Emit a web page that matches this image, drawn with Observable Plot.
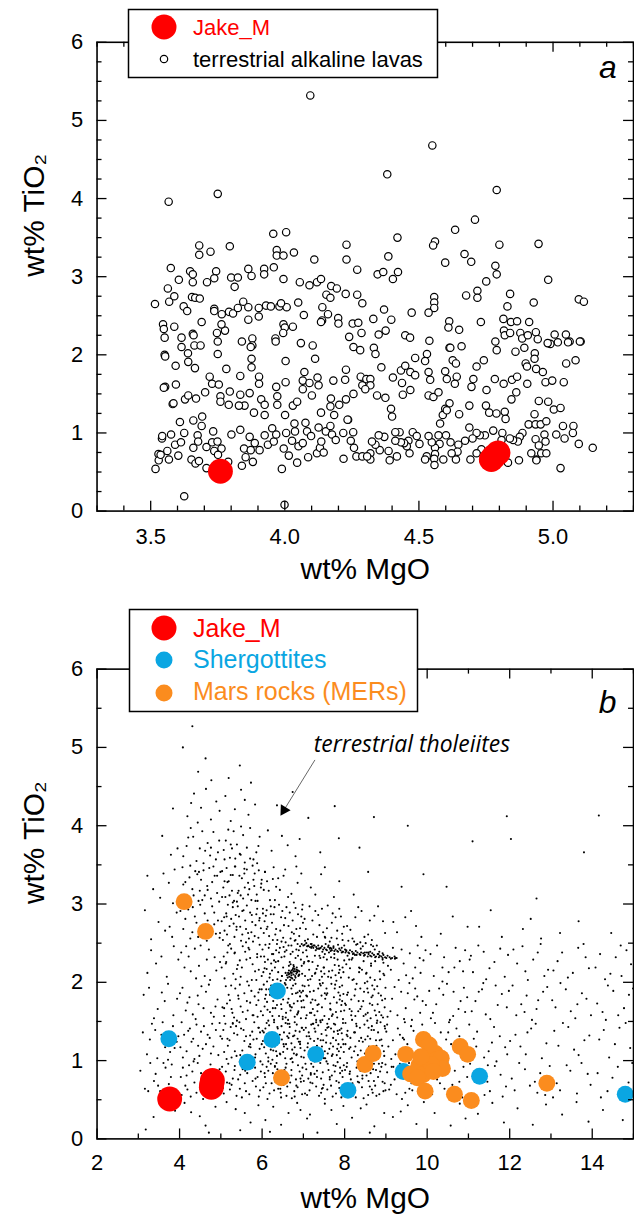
<!DOCTYPE html>
<html><head><meta charset="utf-8">
<script src="https://cdn.jsdelivr.net/npm/d3@7"></script>
<script src="https://cdn.jsdelivr.net/npm/@observablehq/plot@0.6"></script>
<style>
html,body{margin:0;padding:0;background:#fff;overflow:hidden}
#wrap{position:relative;width:634px;height:1215px;overflow:hidden;background:#fff}
.panel{position:absolute;left:0}
#legend{position:absolute;left:0;top:0;pointer-events:none}
</style></head><body><div id="wrap"></div>
<script>
// ---------------- DATA ----------------
// Panel a: terrestrial alkaline lavas, flat list [MgO, TiO2, ...] (wt%)
const alkalineLavas = [
4.095,5.32, 4.55,4.68,
3.567,3.96, 3.75,4.06, 4.382,4.31, 4.79,4.11, 4.709,3.73, 4.635,3.60, 4.42,3.50, 3.957,3.55, 4.005,3.57, 4.56,3.45, 4.553,3.40, 4.80,3.41, 4.946,3.42, 4.67,3.29, 4.695,3.19, 4.598,3.18, 4.386,3.26, 4.23,3.41, 4.23,3.22, 4.27,3.09, 4.11,3.22, 4.034,3.31, 3.97,3.34, 3.97,3.27, 3.995,3.27, 3.959,3.12, 3.681,3.40, 3.681,3.28, 3.723,3.32, 3.795,3.39, 3.575,3.11, 3.647,3.07, 3.657,3.03, 3.744,3.07, 3.864,3.10, 3.923,3.10, 3.876,3.01, 3.923,3.03, 3.605,2.96, 3.657,2.93, 3.71,2.93, 3.737,2.98, 3.80,2.99, 3.825,2.99, 3.813,2.87, 3.995,2.97, 4.056,2.93, 4.092,2.89, 4.12,2.93, 4.135,2.97, 4.173,2.88, 4.194,2.85, 4.155,2.77, 4.17,2.73, 4.227,2.78, 4.27,2.77, 4.289,2.66, 4.346,3.03, 4.367,3.06, 4.403,2.97, 4.422,3.06, 4.751,2.94, 4.79,3.03, 4.785,3.14, 4.982,2.96, 4.676,2.76, 4.718,2.82, 4.718,2.73, 4.84,2.78, 4.557,2.74, 4.557,2.67, 4.557,2.60, 4.83,2.62, 4.928,2.67, 5.096,2.71, 5.115,2.68, 3.516,2.65, 3.569,2.68, 3.588,2.75, 3.654,2.74, 3.666,2.73, 3.683,2.72, 3.564,2.85, 3.623,2.62, 3.636,2.56, 3.69,2.42, 3.737,2.59, 3.737,2.56, 3.765,2.52, 3.792,2.55, 3.807,2.53, 3.825,2.60, 3.845,2.68, 3.864,2.61, 3.903,2.60, 3.93,2.63, 3.948,2.62, 3.98,2.62, 4.007,2.61, 3.986,2.66, 3.864,2.45, 3.903,2.49, 4.05,2.67, 4.071,2.51, 4.14,2.61, 4.161,2.52, 4.139,2.44, 4.135,2.42, 4.199,2.47, 4.2,2.40, 4.33,2.46, 4.37,2.58, 4.397,2.45, 4.473,2.54, 4.536,2.54, 4.613,2.43, 4.731,2.42, 4.815,2.46, 4.61,2.35, 4.65,2.32, 4.843,2.42, 4.866,2.43, 4.911,2.42, 3.546,2.39, 3.549,2.33, 3.588,2.36, 3.657,2.27, 3.747,2.28, 3.777,2.31, 3.764,2.39, 3.995,2.39, 4.0,2.35, 4.03,2.36, 3.994,2.28, 3.965,2.21, 4.253,2.40, 4.274,2.41, 4.286,2.28, 4.24,2.23, 4.35,2.26, 4.376,2.31, 4.449,2.25, 4.467,2.22, 4.817,2.31, 4.82,2.25, 4.84,2.28, 4.878,2.28, 4.885,2.21, 4.906,2.25, 4.936,2.29, 4.943,2.20, 5.006,2.26, 5.048,2.26, 5.018,2.16, 5.062,2.17, 5.103,2.17, 4.99,2.14, 4.785,2.17, 4.539,2.18, 4.614,2.09, 4.659,2.11, 3.615,2.22, 3.615,2.10, 3.66,2.25, 3.663,2.12, 3.686,2.12, 3.75,2.17, 3.84,2.17, 3.879,2.21, 3.879,2.12, 4.06,2.15, 4.104,2.12, 3.552,2.22,
3.552,2.0, 3.639,2.02, 3.75,2.01, 4.256,2.10, 4.281,2.06, 4.332,2.09, 4.617,2.09, 4.79,2.06, 4.86,2.04, 4.893,2.09, 4.932,2.02, 4.98,2.15, 5.056,2.16, 5.1,2.17, 3.873,2.10, 3.966,2.17,
3.554,1.98, 3.593,1.86, 3.64,1.91, 3.665,1.83, 3.554,1.59, 3.582,1.37, 3.628,1.43, 3.669,1.44, 3.703,1.52, 3.72,1.72, 3.729,1.63, 3.754,1.62, 3.76,1.47, 3.76,1.40, 3.782,1.82, 3.795,1.53, 3.791,1.36, 3.834,1.73, 3.834,1.49, 3.85,1.35, 3.829,1.35, 3.869,1.51, 3.876,1.95, 3.876,1.84, 3.904,1.72, 3.904,1.63, 3.912,1.43, 3.925,1.36, 3.925,1.23, 3.885,1.26, 3.968,1.59, 3.972,1.47, 3.972,1.36, 4.003,1.92, 4.003,1.65, 4.001,1.23, 4.03,1.35, 4.046,1.40, 4.073,1.78, 4.067,1.67, 4.067,1.56, 4.092,1.64, 4.101,1.48, 4.113,1.95, 4.122,1.71, 4.126,1.61, 4.135,1.26, 4.181,1.67, 4.172,1.44, 4.17,1.34, 4.184,1.23, 4.203,1.36, 4.228,1.81, 4.225,1.68, 4.228,1.43, 4.236,1.17, 4.256,1.50, 4.283,1.72, 4.289,1.61,
3.518,0.54, 3.529,0.73, 3.53,0.65, 3.542,0.93, 3.562,0.77, 3.568,0.66, 3.576,0.98, 3.591,0.85, 3.603,0.71, 3.609,1.14, 3.613,0.88, 3.625,1.0, 3.625,0.19, 3.652,0.66, 3.659,1.16, 3.659,0.81, 3.667,0.61, 3.675,0.97, 3.677,0.89, 3.69,1.09, 3.692,1.21, 3.68,0.64, 3.708,0.55, 3.708,0.82, 3.729,0.88, 3.733,1.02, 3.737,0.77, 3.749,0.89, 3.764,0.80, 3.751,0.72, 3.789,0.63, 3.801,0.98, 3.834,1.04, 3.84,0.58, 3.848,0.80, 3.854,0.69, 3.869,0.95, 3.873,0.78, 3.881,0.63, 3.888,0.87, 3.906,0.78, 3.925,0.97, 3.937,0.85, 3.953,1.06, 3.959,0.89, 3.968,0.98, 3.989,0.54, 3.996,0.80, 4.005,1.0, 4.015,0.71, 4.027,0.90, 4.036,1.12, 4.038,1.02, 4.046,0.62, 4.051,0.83, 4.067,0.87, 4.077,1.13, 4.083,1.02, 4.087,0.69, 4.098,0.96, 4.12,0.74, 4.126,1.07, 4.131,0.81, 4.136,0.89, 4.145,0.75, 4.153,1.02, 4.17,1.09, 4.176,0.98, 4.19,0.91, 4.218,1.0, 4.219,0.67, 4.234,1.17, 4.246,0.90, 4.255,1.01, 4.258,0.81, 4.267,0.70, 4.289,0.70, 3.999,0.08,
3.549,1.58, 3.594,1.62, 3.64,1.48, 3.585,1.38, 3.543,0.96, 3.537,0.72,
4.338,2.01, 4.36,1.84, 4.304,1.69, 4.319,1.69, 4.319,1.61, 4.3,1.56, 4.344,1.48, 4.375,1.45, 4.403,1.71, 4.396,1.31, 4.4,1.21, 4.433,1.80, 4.449,1.86, 4.437,1.64, 4.44,1.49, 4.468,1.78, 4.468,1.55, 4.486,1.96, 4.486,1.74, 4.53,2.01, 4.523,1.92, 4.536,1.78, 4.542,1.68, 4.536,1.48, 4.554,1.46, 4.573,1.52, 4.598,1.79, 4.604,1.69, 4.614,1.38, 4.598,1.31, 4.589,1.23, 4.579,1.12, 4.604,1.29, 4.626,1.93, 4.638,1.89, 4.641,1.72, 4.634,1.63, 4.65,1.24, 4.688,1.35, 4.696,1.59, 4.703,1.69, 4.715,1.85, 4.742,1.93, 4.752,1.55, 4.75,1.35, 4.762,1.26, 4.783,1.69, 4.789,1.25, 4.816,1.63, 4.82,1.27, 4.823,1.18, 4.847,1.68, 4.845,1.43, 4.863,1.52, 4.866,1.72, 4.898,1.89, 4.903,1.85, 4.904,1.63, 4.931,1.95, 4.937,1.82, 4.962,1.78, 4.972,1.65, 4.997,1.67, 5.04,1.65, 5.049,1.89, 5.084,1.93, 4.947,1.41, 4.982,1.40, 5.003,1.30, 5.028,1.32, 4.931,1.24, 4.909,1.11, 4.935,1.11, 4.954,1.11, 4.975,1.15, 5.037,1.09, 5.076,1.09, 5.012,0.98, 5.043,0.93, 5.074,1.0, 5.096,0.86, 5.148,0.81, 5.028,0.55, 4.968,0.98, 4.972,0.89, 4.935,0.92, 4.947,0.84, 4.956,0.74, 4.975,0.74, 4.919,0.74, 4.938,0.66, 4.886,1.0, 4.876,0.95, 4.869,0.89, 4.851,0.91, 4.873,0.65, 4.839,0.93, 4.811,1.0, 4.777,1.03, 4.746,0.97, 4.727,0.97, 4.715,1.0, 4.7,0.93, 4.692,0.66, 4.688,1.07, 4.672,0.90, 4.647,0.85, 4.644,0.76, 4.638,0.66, 4.618,0.88, 4.622,0.74, 4.601,0.97, 4.591,0.66, 4.573,0.97, 4.577,0.86, 4.56,0.81, 4.56,0.73, 4.557,0.67, 4.558,0.59, 4.548,0.88, 4.529,0.70, 4.523,0.66, 4.536,0.96, 4.502,0.86, 4.477,1.01, 4.461,0.90, 4.465,0.74, 4.455,0.83, 4.445,0.87, 4.433,0.88, 4.418,0.70, 4.428,1.01, 4.412,1.01, 4.412,0.90, 4.391,0.65, 4.387,0.77, 4.371,0.95, 4.35,0.97, 4.354,0.78, 4.338,0.85, 4.325,0.89, 4.319,0.74, 4.319,0.66, 4.307,0.70, 4.733,0.79, 4.74,0.65, 4.715,0.74, 4.832,0.62, 4.938,0.65, 4.808,0.91, 4.492,0.96
];

// Jake_M (same analyses in both panels) [MgO, TiO2]
const jakeM = [[3.76,0.51],[4.77,0.66],[4.78,0.70],[4.795,0.745]];

// Panel b: shergottites and Mars rocks (MERs) [MgO, TiO2]
const shergottites = [[3.74,1.28],[6.37,1.89],[6.24,1.27],[5.64,0.98],[7.3,1.08],[8.08,0.62],[9.42,0.86],[11.27,0.80],[14.8,0.57]];
const marsRocks = [[4.11,3.03],[4.63,2.65],[6.47,0.78],[8.49,0.95],[8.69,1.09],[9.48,1.08],[9.91,1.27],[9.6,0.83],[9.8,0.94],[10.0,1.01],[10.2,1.09],[10.34,1.03],[10.37,0.90],[9.9,0.82],[9.76,0.78],[10.05,1.20],[9.95,0.61],[10.66,0.57],[11.07,0.49],[10.8,1.18],[10.98,1.08],[12.9,0.71],[10.1,0.95],[9.85,1.05],[10.15,0.86]];

// Panel b: terrestrial tholeiites, flat list [MgO*100, TiO2*100, ...]
const tholeiites = [
337,28,371,44,318,12,389,36,
342,83,316,64,381,95,357,57,329,97,374,70,353,61,395,59,305,87,366,91,338,74,387,52,324,61,361,97,348,68,379,79,
356,133,321,108,384,144,365,117,333,147,393,124,346,103,311,136,377,111,359,149,328,127,388,116,341,139,397,131,372,101,363,122,
364,176,326,193,385,158,347,166,313,184,372,198,394,179,338,154,357,187,
356,233,322,212,386,246,343,224,369,207,397,229,331,241,
349,277,382,258,316,292,365,266,393,289,331,255,376,271,
374,327,353,308,388,344,336,319,361,339,322,336,384,301,379,363,358,387,395,371,384,422,
428,34,463,17,412,46,487,41,449,29,471,8,
436,72,408,91,471,58,452,84,419,63,493,77,444,97,427,54,482,88,461,66,403,79,475,95,431,86,457,51,414,68,488,62,467,82,441,59,497,89,423,94,479,71,405,56,434,99,458,75,486,53,417,81,
402,117,425,141,448,106,473,129,497,148,411,133,436,102,459,144,482,118,405,149,429,124,452,137,476,109,499,131,417,112,441,146,464,121,488,139,408,104,433,128,456,115,479,147,494,107,421,138,445,119,468,133,
458,167,424,181,483,156,407,193,446,172,471,197,432,159,492,178,415,164,464,188,439,153,487,169,453,195,419,174,476,161,401,186,444,183,
404,238,427,214,451,247,474,203,498,226,412,219,437,243,461,208,485,232,416,246,440,205,466,229,489,215,422,233,447,221,471,242,
454,271,421,293,488,262,437,284,466,253,409,268,479,297,445,258,493,279,426,256,461,288,414,281,473,266,450,299,484,274,431,264,468,279,402,291,497,257,441,276,
403,309,424,334,449,317,472,346,496,303,414,328,438,342,461,311,485,336,407,347,431,319,455,305,479,328,499,341,419,302,443,338,467,323,491,314,426,349,452,331,476,307,409,325,434,311,458,343,482,348,446,304,
462,368,433,386,488,357,417,374,455,393,474,362,441,355,496,381,427,397,468,378,409,361,482,392,449,371,458,352,421,385,493,366,
452,423,476,408,435,441,489,431,464,447,419,412,444,404,497,419,428,429,
431,527,408,500,463,486,477,458,445,469,
536,38,572,21,514,47,591,43,558,33,547,11,
542,76,507,58,583,91,526,69,564,84,595,62,518,96,551,53,577,74,533,88,502,81,569,57,546,99,589,79,522,63,558,71,512,86,574,94,538,55,597,86,529,77,561,61,585,67,547,82,515,72,571,98,505,65,553,89,592,54,534,93,
503,128,526,104,549,141,572,117,595,136,511,147,534,112,557,125,581,149,517,119,540,133,563,106,587,128,506,139,529,148,552,113,576,137,599,121,514,102,537,144,561,131,584,108,521,126,545,149,568,118,591,142,508,111,532,135,555,103,579,127,524,143,547,107,571,132,594,115,
553,162,519,184,586,171,532,155,568,196,504,168,577,158,543,179,594,191,526,166,561,153,512,195,582,182,548,169,535,192,571,174,508,157,557,186,597,163,522,177,565,164,539,151,589,156,515,173,574,189,546,197,528,161,591,177,
502,219,525,243,548,207,571,231,594,248,513,226,536,204,559,239,583,214,518,247,541,222,564,201,588,236,507,233,530,211,553,246,577,223,599,208,516,238,539,217,562,229,586,203,522,249,546,228,569,242,592,216,509,205,533,237,
547,271,513,288,582,259,529,296,566,263,594,282,505,254,555,292,538,267,576,277,521,272,561,251,588,294,544,284,509,266,571,289,533,258,597,269,552,261,517,299,584,273,541,297,568,256,525,281,559,279,591,257,536,286,502,278,574,264,549,253,515,261,586,287,531,275,563,298,508,283,578,252,
503,342,527,317,551,333,574,305,598,326,511,309,535,348,558,321,582,339,516,328,539,303,563,344,587,312,506,321,529,337,554,307,577,349,599,331,514,346,541,314,566,327,589,304,521,311,545,336,569,319,592,343,509,329,532,304,557,345,581,323,524,337,548,311,
546,364,512,381,579,357,531,393,563,372,594,386,522,359,554,388,507,369,571,397,539,376,586,366,518,395,558,353,527,371,549,399,591,374,535,358,
534,421,511,438,567,414,549,446,583,427,524,406,558,433,519,461,546,477,573,455,
627,41,664,33,608,24,685,46,646,18,693,37,619,9,
643,77,611,92,678,61,626,84,659,55,694,73,603,66,635,97,671,88,618,58,652,69,687,94,629,62,664,81,607,79,646,53,682,76,615,87,657,91,639,64,697,57,623,71,674,98,649,83,601,95,661,67,633,74,691,86,613,51,655,78,679,54,637,89,668,72,621,96,645,59,686,66,606,84,672,52,631,93,697,81,
641,123,608,141,677,109,624,132,662,147,693,116,615,104,653,136,634,112,686,128,602,125,669,102,647,144,619,119,681,138,636,106,658,121,697,142,612,134,673,114,629,149,664,129,644,108,689,124,605,117,651,111,684,146,622,127,666,135,638,141,695,105,617,145,656,103,675,131,631,118,648,127,691,137,609,109,671,122,627,113,661,115,643,133,683,107,614,129,657,148,635,125,679,117,601,138,667,143,625,101,692,121,653,118,
602,158,623,183,647,166,671,192,694,154,612,175,636,197,658,161,682,186,606,169,629,152,653,188,677,173,698,196,617,191,641,157,664,179,688,163,609,184,632,167,655,199,679,156,700,177,619,162,643,194,667,171,691,189,604,197,627,176,650,153,673,185,696,168,615,151,638,181,661,193,685,159,622,196,646,172,669,164,692,182,607,179,634,188,657,155,681,198,613,165,640,185,663,152,686,176,625,157,648,193,672,168,695,187,610,191,651,178,
603,213,627,236,648,208,671,247,696,221,614,229,637,204,659,241,684,216,608,248,631,219,654,233,678,203,699,238,619,211,643,244,667,226,689,209,605,233,626,203,651,219,674,239,697,211,616,244,639,227,662,206,686,249,611,217,634,241,657,212,681,231,622,224,645,202,669,236,692,246,601,242,629,228,652,245,676,214,694,229,618,206,641,238,665,221,687,234,607,226,636,249,658,203,683,242,624,215,647,232,
663,212,671,209,678,214,666,207,674,216,683,211,669,213,681,206,676,210,687,215,673,205,665,215,679,217,690,210,660,209,684,219,668,203,677,220,
667,211,672,212,680,208,685,213,670,206,675,218,682,214,664,210,688,208,671,215,
604,263,628,287,651,257,674,279,697,293,613,271,637,254,659,296,683,268,609,285,632,261,656,282,679,253,699,276,621,297,644,266,667,289,690,259,606,278,626,254,649,291,672,264,695,284,617,259,641,299,664,272,687,287,611,292,634,268,657,251,681,295,624,276,646,283,669,256,692,269,602,288,630,296,653,273,677,262,698,299,
634,322,607,341,671,313,619,305,652,336,686,327,628,347,663,309,643,318,695,339,612,329,677,302,656,344,639,333,604,318,683,348,
623,368,648,387,681,361,614,394,662,375,691,383,636,426,674,443,
716,31,752,45,781,19,734,8,768,37,797,42,709,26,
704,58,727,83,749,69,773,94,798,61,712,77,738,55,761,88,786,72,719,96,745,64,769,81,792,53,707,89,731,67,756,99,779,58,701,74,724,92,752,51,776,86,795,79,715,62,741,97,767,68,789,91,709,56,733,79,758,63,783,98,722,71,747,85,771,54,794,87,718,82,743,59,764,76,787,65,
703,113,729,137,747,104,772,129,796,148,711,122,736,145,759,109,784,134,721,101,748,126,767,141,791,117,706,142,733,119,756,132,781,107,717,128,742,149,763,115,788,139,701,104,726,125,752,112,777,146,795,127,713,136,739,111,761,143,785,121,723,147,745,118,769,106,793,135,708,131,731,103,754,139,779,126,798,111,719,146,744,134,766,122,789,103,714,109,735,128,758,147,782,115,727,141,750,103,774,137,
702,168,725,189,751,157,774,181,799,164,713,196,737,172,762,153,785,187,719,161,744,183,768,198,792,171,706,154,729,177,756,192,779,162,797,185,716,188,741,151,765,173,788,194,723,166,747,199,771,159,794,176,709,182,734,163,758,186,782,155,703,195,727,158,753,179,776,192,796,153,718,174,742,196,766,165,789,183,731,152,
704,208,728,234,749,219,773,246,797,213,712,227,739,203,762,238,786,221,720,249,743,214,767,232,791,206,707,241,732,217,757,229,780,202,701,224,725,247,751,211,775,236,799,228,714,216,737,243,760,207,784,248,722,226,746,239,770,215,793,244,709,233,735,221,754,249,778,209,717,204,741,231,765,244,788,216,729,212,752,236,776,222,796,239,711,246,745,207,
696,249,703,248,707,250,712,247,718,249,721,246,727,247,731,245,736,247,742,244,745,246,751,244,755,242,760,245,764,243,769,241,773,244,778,242,782,240,787,243,790,241,795,239,801,242,804,240,809,238,813,241,818,239,822,237,827,240,831,238,836,236,840,238,845,237,849,235,854,238,858,236,862,234,867,237,871,235,876,233,880,236,885,234,889,233,894,235,898,232,904,234,909,232,915,231,921,233,926,231,
700,247,709,246,716,245,724,244,733,243,739,243,748,242,757,241,766,240,775,240,784,239,793,238,802,238,811,237,820,236,829,235,838,235,847,234,856,233,865,233,874,232,883,232,892,231,901,231,912,230,922,230,
752,258,768,257,781,256,795,254,809,253,823,252,838,251,851,250,864,248,
706,268,729,291,753,257,778,283,794,262,715,297,739,273,764,252,787,294,722,279,748,264,771,288,798,271,711,255,736,286,759,298,782,266,724,261,745,294,769,276,791,284,703,281,757,269,733,258,
718,321,743,338,774,309,752,347,729,312,787,329,741,366,786,384,712,410,776,425,
818,27,853,44,872,16,839,39,896,33,861,8,
803,68,829,91,858,74,884,57,812,83,846,52,871,96,897,71,821,59,838,87,866,63,889,92,806,97,853,81,877,55,815,76,842,66,869,89,894,61,827,53,851,99,881,79,808,58,835,72,863,84,899,95,819,64,847,93,874,68,831,80,857,56,886,86,801,88,843,77,868,59,892,73,
811,115,837,142,864,103,889,127,823,136,849,109,878,148,802,121,856,131,883,112,817,104,844,124,871,139,896,106,828,147,859,118,876,126,805,133,832,107,866,144,891,119,814,129,853,101,881,136,839,113,862,128,898,141,826,118,848,146,874,109,807,138,835,125,869,111,887,149,
812,166,838,192,863,154,891,177,824,183,851,159,879,195,803,171,857,187,884,162,818,152,845,176,872,191,897,168,829,198,861,173,876,158,806,184,833,163,867,196,893,155,816,178,855,151,882,186,841,169,865,181,899,193,826,157,849,199,873,164,
813,218,839,243,862,206,892,229,825,235,852,211,878,247,804,223,858,238,885,214,819,203,846,227,873,242,896,209,831,249,864,221,807,234,835,213,869,246,894,225,817,229,855,201,884,239,842,216,
814,267,841,291,866,254,893,278,826,283,857,261,881,297,806,272,848,258,872,285,833,296,898,263,819,256,861,279,
822,312,857,341,836,372,871,411,
917,28,953,43,974,19,936,35,992,47,
908,63,931,88,962,71,985,54,914,92,947,59,978,83,921,76,956,97,993,66,903,85,939,51,969,94,912,69,951,79,987,91,926,57,964,62,998,88,934,96,
906,118,929,141,958,106,983,133,917,126,946,149,975,112,901,137,952,121,988,146,913,102,941,129,967,138,996,115,923,108,961,144,979,124,934,133,
911,163,937,188,963,152,989,176,921,194,948,167,976,182,904,156,957,199,983,161,915,179,944,153,971,192,997,171,928,158,953,186,
912,216,938,242,965,205,991,228,923,231,949,209,977,247,905,221,958,237,984,212,917,244,943,224,971,219,996,241,
927,264,961,291,918,277,986,258,947,283,973,272,938,322,991,338,953,400,
1018,33,1057,17,1079,45,1093,26,
1012,57,1036,83,1061,69,1088,92,1024,76,1049,98,1073,61,1097,79,1006,91,1042,64,1067,87,1085,53,1031,71,
1008,112,1033,136,1058,121,1083,104,1019,148,1046,127,1071,141,1094,118,1027,103,1053,149,1078,131,1002,126,
1014,161,1039,184,1063,157,1089,193,1022,172,1048,198,1076,166,1097,181,1005,189,1055,152,1081,176,1029,192,
1016,208,1041,232,1066,219,1092,241,1024,247,1052,213,1079,227,1008,236,1037,201,1069,244,1087,214,
1033,262,1062,284,1098,271,1047,322,
1123,32,1158,46,1186,21,
1115,78,1139,56,1164,93,1191,67,1127,87,1152,61,1178,82,1104,96,1146,73,1183,54,1168,99,
1113,128,1138,104,1162,143,1189,117,1121,137,1149,112,1176,131,1102,146,1157,123,1194,108,
1117,176,1142,159,1166,196,1193,168,1125,188,1153,153,1181,185,1108,163,1171,171,1136,199,1198,189,
1111,213,1137,239,1163,226,1188,207,1124,247,1151,218,1177,243,1103,229,1143,204,1196,235,
1126,271,1154,292,1181,258,1110,380,1193,412,
1219,39,1256,18,1288,44,
1212,62,1237,89,1261,73,1286,56,1223,97,1249,68,1274,84,1297,93,1205,77,1267,59,
1214,133,1239,108,1263,147,1289,122,1226,118,1252,141,1278,103,1201,125,1243,136,
1216,158,1241,183,1265,166,1291,194,1228,172,1254,152,1281,188,1207,196,1269,177,1236,162,
1218,224,1244,203,1268,238,1293,216,1231,246,1257,229,1284,208,1209,242,1275,249,1238,214,
1232,268,1276,256,1251,281,1265,307,1203,383,
1327,31,1362,47,1391,22,
1314,71,1338,94,1363,58,1389,83,1322,62,1347,87,1374,97,1305,53,1396,69,
1318,119,1342,143,1367,107,1393,132,1329,148,1356,114,1381,126,1308,138,
1311,168,1336,191,1359,154,1386,179,1323,199,1348,163,1375,186,1303,177,1397,158,1364,172,
1316,227,1341,206,1366,244,1392,218,1327,238,1353,212,1379,249,1306,215,1384,232,
1322,263,1367,278,1380,366,
1426,37,1474,24,
1413,84,1437,61,1462,92,1488,72,1421,53,1449,78,1473,65,1497,97,
1417,127,1441,104,1466,142,1492,116,1428,139,1455,121,1481,148,
1412,173,1438,196,1463,158,1489,184,1425,162,1451,189,1477,167,1499,192,1433,152,
1419,236,1444,211,1469,247,1494,223,1431,204,1457,232,1483,241,1408,219,1471,208,
1446,263,1416,413,
583,104,591,187,597,233,604,136,609,71,612,201,618,249,621,114,626,167,631,92,633,226,637,143,641,181,644,64,648,208,652,121,655,239,659,96,662,174,666,147,669,223,671,81,675,196,678,132,681,254,684,108,687,161,690,214,693,77,696,142,699,189,
702,226,705,96,708,158,711,203,714,131,717,72,719,244,722,178,725,113,728,211,731,149,733,87,736,192,739,234,742,126,745,168,747,65,750,219,753,103,756,184,758,142,761,247,764,79,767,206,769,157,772,118,775,231,778,93,781,174,783,138,786,212,789,84,791,163,794,196,797,121,799,247,
802,148,805,92,808,187,811,229,814,117,817,163,819,71,822,204,825,136,828,248,831,99,834,176,837,218,840,129,843,81,846,157,849,238,852,109,855,192,858,142,861,67,864,224,867,171,870,118,873,203,876,88,879,151,882,236,885,126,888,183,891,97,894,211,897,144,899,62,
606,218,611,148,615,99,619,184,624,236,628,127,632,73,636,171,639,213,643,109,647,252,650,156,654,88,657,197,661,131,664,247,668,169,672,103,676,222,679,149,683,68,686,187,689,241,692,124,695,176,698,91,701,139,704,253,707,183,710,117,713,227,716,161,718,84,721,208,724,147,727,99,730,241,734,171,737,112,740,198,743,77,746,152,749,232,752,186,755,123,759,96,762,214,765,166,768,243,771,108,774,147,777,197,780,74,783,229,786,112,788,178,792,141,795,219,798,94,801,173,804,241,807,131,810,206,813,86,816,158,819,231,823,112,826,191,829,144,832,73,835,219,838,166,841,98,844,246,847,188,850,127,853,212,856,161,859,91,862,239,865,139,868,183,871,74,874,227,877,119,880,172,883,96,886,204,889,158,892,237,895,112,898,179,
503,92,508,167,512,224,516,128,521,71,525,196,529,147,534,238,538,106,542,183,546,64,551,219,555,139,559,87,563,176,567,244,571,121,575,203,579,158,584,77,588,232,592,142,596,99,599,191,
432,296,447,341,459,267,468,318,476,372,484,289,491,336,498,263,503,309,509,357,514,284,519,329,524,376,529,302,534,348,538,271,543,317,548,363,552,291,557,339,561,268,566,312,571,358,575,286,579,331,584,304,588,352,593,279,597,321,602,294,607,341,611,268,616,317,621,287,626,332,631,305,
903,146,918,92,931,203,944,127,957,64,969,178,982,231,996,108,1009,154,1023,87,1037,219,1051,136,1064,188,1078,73,1092,162,1106,234,1119,118,1133,191,1147,94
];

// Axis ticks and labels
const xMajorA = [3.5, 4.0, 4.5, 5.0];
const xMinorA = [3.3,3.4,3.6,3.7,3.8,3.9,4.1,4.2,4.3,4.4,4.6,4.7,4.8,4.9,5.1,5.2,5.3];
const yMajor = [0, 1, 2, 3, 4, 5, 6];
const yMinorA = [0.25,0.5,0.75,1.25,1.5,1.75,2.25,2.5,2.75,3.25,3.5,3.75,4.25,4.5,4.75,5.25,5.5,5.75];
const xMajorB = [2, 4, 6, 8, 10, 12, 14];
const xMinorB = [3, 5, 7, 9, 11, 13, 15];
const yMinorB = [0.5, 1.5, 2.5, 3.5, 4.5, 5.5];

// Text
const xTitle = "wt% MgO";
const yTitle = "wt% TiO\u2082";
const tholLabel = [{x: 9.63, y: 5.03, text: "terrestrial tholeiites"}];
const tholArrow = [{x1: 7.28, y1: 4.84, x2: 6.53, y2: 4.2}];

const colors = {jake: "#ff0000", sherg: "#0aa6e2", mars: "#fb8c1e"};

// ---------------- RENDER ----------------
const FONT = '"Liberation Sans", Arial, Helvetica, sans-serif';
const toPts = (flat, k = 1) => { const o = []; for (let i = 0; i < flat.length; i += 2) o.push({x: flat[i] / k, y: flat[i + 1] / k}); return o; };
const toObj = arr => arr.map(([x, y]) => ({x, y}));

function frameTicks(xMaj, xMin, yMaj, yMin, xDom, yDom, pxX, pxY) {
  const L = 10, S = 5, sw = 1.3;
  const xt = [...xMaj.map(v => ({v, l: L})), ...xMin.map(v => ({v, l: S}))];
  const yt = [...yMaj.map(v => ({v, l: L})), ...yMin.map(v => ({v, l: S}))];
  return [
    Plot.ruleX(xt, {x: "v", y1: yDom[0], y2: d => yDom[0] + d.l / pxY, stroke: "black", strokeWidth: sw}),
    Plot.ruleX(xt, {x: "v", y1: yDom[1], y2: d => yDom[1] - d.l / pxY, stroke: "black", strokeWidth: sw}),
    Plot.ruleY(yt, {y: "v", x1: xDom[0], x2: d => xDom[0] + d.l / pxX, stroke: "black", strokeWidth: sw}),
    Plot.ruleY(yt, {y: "v", x1: xDom[1], x2: d => xDom[1] - d.l / pxX, stroke: "black", strokeWidth: sw})
  ];
}

const W = 637, ML = 97, MR = 1;
// Panel a
const xDomA = [3.3, 5.3], yDom = [0, 6];
const hA = 590, mtA = 42, mbA = 77;
const pxXA = (W - ML - MR) / (xDomA[1] - xDomA[0]);
const pxYA = (hA - mtA - mbA) / (yDom[1] - yDom[0]);

const plotA = Plot.plot({
  width: W, height: hA, marginLeft: ML, marginRight: MR, marginTop: mtA, marginBottom: mbA,
  style: {fontFamily: FONT, fontSize: "22px", color: "black", background: "transparent", overflow: "visible"},
  x: {domain: xDomA}, y: {domain: yDom},
  marks: [
    Plot.dot(toPts(alkalineLavas), {x: "x", y: "y", r: 3.7, stroke: "black", strokeWidth: 1.2, fill: "white"}),
    Plot.dot(toObj(jakeM), {x: "x", y: "y", r: 12.5, fill: colors.jake, stroke: "none"}),
    ...frameTicks(xMajorA, xMinorA, yMajor, yMinorA, xDomA, yDom, pxXA, pxYA),
    Plot.frame({stroke: "black", strokeWidth: 1.6}),
    Plot.axisX({ticks: xMajorA, tickSize: 0, tickPadding: 17, tickFormat: d3.format(".1f"), label: null, fontSize: 22}),
    Plot.axisY({ticks: yMajor, tickSize: 0, tickPadding: 14, tickFormat: d3.format("d"), label: null, fontSize: 22}),
    Plot.text([xTitle], {frameAnchor: "bottom", dy: 47, lineAnchor: "top", fontSize: 30}),
    Plot.text([yTitle], {frameAnchor: "left", dx: -53, rotate: -90, lineAnchor: "bottom", fontSize: 30}),
    Plot.text(["a"], {frameAnchor: "top-right", dx: -17, dy: 26, textAnchor: "end", lineAnchor: "middle", fontSize: 32, fontStyle: "italic"})
  ]
});

// Panel b
const xDomB = [2, 15];
const hB = 625, mtB = 79, mbB = 74;
const pxXB = (W - ML - MR) / (xDomB[1] - xDomB[0]);
const pxYB = (hB - mtB - mbB) / (yDom[1] - yDom[0]);

const plotB = Plot.plot({
  width: W, height: hB, marginLeft: ML, marginRight: MR, marginTop: mtB, marginBottom: mbB,
  style: {fontFamily: FONT, fontSize: "22px", color: "black", background: "transparent", overflow: "visible"},
  x: {domain: xDomB}, y: {domain: yDom},
  marks: [
    Plot.dot(toPts(tholeiites, 100), {x: "x", y: "y", r: 1.05, fill: "black", stroke: "none"}),
    Plot.link(tholArrow, {x1: "x1", y1: "y1", x2: "x2", y2: "y2", stroke: "#555", strokeWidth: 0.9}),
    Plot.dot(tholArrow, {x: "x2", y: "y2", symbol: "triangle", r: 4.3, rotate: 212, fill: "black", stroke: "none"}),
    Plot.text(tholLabel, {x: "x", y: "y", text: "text", fontFamily: '"Open Sans", "Noto Sans", sans-serif', fontStyle: "italic", fontSize: 23, lineAnchor: "middle"}),
    Plot.dot(toObj(shergottites), {x: "x", y: "y", r: 8.5, fill: colors.sherg, stroke: "none"}),
    Plot.dot(toObj(marsRocks), {x: "x", y: "y", r: 8.5, fill: colors.mars, stroke: "none"}),
    Plot.dot(toObj(jakeM), {x: "x", y: "y", r: 12.5, fill: colors.jake, stroke: "none"}),
    ...frameTicks(xMajorB, xMinorB, yMajor, yMinorB, xDomB, yDom, pxXB, pxYB),
    Plot.frame({stroke: "black", strokeWidth: 1.6}),
    Plot.axisX({ticks: xMajorB, tickSize: 0, tickPadding: 16, tickFormat: d3.format("d"), label: null, fontSize: 22}),
    Plot.axisY({ticks: yMajor, tickSize: 0, tickPadding: 14, tickFormat: d3.format("d"), label: null, fontSize: 22}),
    Plot.text([xTitle], {frameAnchor: "bottom", dy: 48, lineAnchor: "top", fontSize: 30}),
    Plot.text([yTitle], {frameAnchor: "left", dx: -53, rotate: -90, lineAnchor: "bottom", fontSize: 30}),
    Plot.text(["b"], {frameAnchor: "top-right", dx: -17, dy: 34, textAnchor: "end", lineAnchor: "middle", fontSize: 32, fontStyle: "italic"})
  ]
});

const wrap = document.getElementById("wrap");
plotA.classList.add("panel"); plotA.style.top = "0px";
plotB.classList.add("panel"); plotB.style.top = hA + "px";
wrap.appendChild(plotA); wrap.appendChild(plotB);

// Legends (overlay)
const legendA = [
  {label: "Jake_M", r: 12.5, fill: colors.jake, stroke: "none", textColor: colors.jake, cy: 27, base: 35},
  {label: "terrestrial alkaline lavas", r: 3.7, fill: "white", stroke: "black", textColor: "black", cy: 59, base: 67}
];
const legendB = [
  {label: "Jake_M", r: 12.5, fill: colors.jake, stroke: "none", textColor: colors.jake, cy: 628, base: 637},
  {label: "Shergottites", r: 8.5, fill: colors.sherg, stroke: "none", textColor: colors.sherg, cy: 660, base: 668},
  {label: "Mars rocks (MERs)", r: 8.5, fill: colors.mars, stroke: "none", textColor: colors.mars, cy: 693, base: 700}
];
const svg = d3.select(wrap).append("svg").attr("id", "legend").attr("width", 634).attr("height", 1215)
  .style("font-family", FONT);
function drawLegend(box, items, fs) {
  svg.append("rect").attr("x", box[0]).attr("y", box[1]).attr("width", box[2]).attr("height", box[3])
    .attr("fill", "white").attr("stroke", "black").attr("stroke-width", 1.5);
  for (const it of items) {
    svg.append("circle").attr("cx", 164).attr("cy", it.cy).attr("r", it.r)
      .attr("fill", it.fill).attr("stroke", it.stroke).attr("stroke-width", 1.2);
    svg.append("text").attr("x", 193).attr("y", it.base).attr("font-size", fs).attr("fill", it.textColor).text(it.label);
  }
}
drawLegend([128.5, 9.5, 309, 68], legendA, 22);
drawLegend([129.5, 609.5, 288, 102], legendB, 25);
</script></body></html>
